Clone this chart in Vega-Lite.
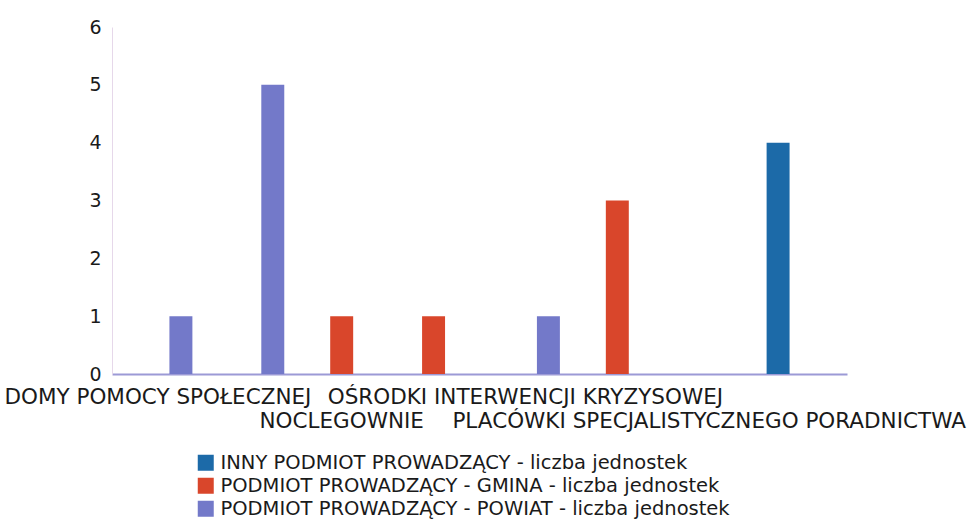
{
  "$schema": "https://vega.github.io/schema/vega-lite/v6.json",
  "autosize": {"type": "none"},
  "padding": {"left": 112, "top": 27, "right": 133, "bottom": 148},
  "width": 735,
  "height": 347,
  "background": "white",
  "config": {"view": {"stroke": null}, "font": "DejaVu Sans"},
  "data": {
    "values": [
      {"kategoria": "DOMY POMOCY SPOŁECZNEJ", "seria": "PODMIOT PROWADZĄCY - POWIAT - liczba jednostek", "liczba": 1},
      {"kategoria": "MIESZKANIA CHRONIONE", "seria": "PODMIOT PROWADZĄCY - POWIAT - liczba jednostek", "liczba": 5},
      {"kategoria": "NOCLEGOWNIE", "seria": "PODMIOT PROWADZĄCY - GMINA - liczba jednostek", "liczba": 1},
      {"kategoria": "OGRZEWALNIE", "seria": "PODMIOT PROWADZĄCY - GMINA - liczba jednostek", "liczba": 1},
      {"kategoria": "OŚRODKI INTERWENCJI KRYZYSOWEJ", "seria": "PODMIOT PROWADZĄCY - POWIAT - liczba jednostek", "liczba": 1},
      {"kategoria": "OŚRODKI WSPARCIA", "seria": "PODMIOT PROWADZĄCY - GMINA - liczba jednostek", "liczba": 3},
      {"kategoria": "PLACÓWKI SPECJALISTYCZNEGO PORADNICTWA", "seria": "INNY PODMIOT PROWADZĄCY - liczba jednostek", "liczba": 0},
      {"kategoria": "SCHRONISKA", "seria": "INNY PODMIOT PROWADZĄCY - liczba jednostek", "liczba": 4}
    ]
  },
  "mark": {"type": "bar"},
  "encoding": {
    "x": {
      "field": "kategoria",
      "type": "nominal",
      "sort": null,
      "scale": {"paddingInner": 0.25, "paddingOuter": 0.125},
      "axis": {
        "title": null,
        "labelAngle": 0,
        "labelOverlap": false,
        "labelLimit": 0,
        "labelFontSize": 21.5,
        "labelColor": "#1a1a1a",
        "labelPadding": 12,
        "labelLineHeight": 24,
        "labelExpr": "datum.value == 'DOMY POMOCY SPOŁECZNEJ' || datum.value == 'OŚRODKI INTERWENCJI KRYZYSOWEJ' ? datum.value : (datum.value == 'NOCLEGOWNIE' || datum.value == 'PLACÓWKI SPECJALISTYCZNEGO PORADNICTWA' ? ['', datum.value] : '')",
        "ticks": false,
        "domainColor": "#9c9ad6",
        "domainWidth": 2
      }
    },
    "xOffset": {
      "field": "seria",
      "type": "nominal",
      "scale": {"domain": ["INNY PODMIOT PROWADZĄCY - liczba jednostek", "PODMIOT PROWADZĄCY - GMINA - liczba jednostek", "PODMIOT PROWADZĄCY - POWIAT - liczba jednostek"], "paddingInner": 0, "paddingOuter": 0}
    },
    "y": {
      "field": "liczba",
      "type": "quantitative",
      "scale": {"domain": [0, 6], "nice": false},
      "axis": {
        "title": null,
        "values": [0, 1, 2, 3, 4, 5, 6],
        "grid": false,
        "ticks": false,
        "labelFontSize": 19,
        "labelColor": "#1a1a1a",
        "labelPadding": 11,
        "domainColor": "#e6d8ea",
        "domainWidth": 1
      }
    },
    "color": {
      "field": "seria",
      "type": "nominal",
      "scale": {
        "domain": ["INNY PODMIOT PROWADZĄCY - liczba jednostek", "PODMIOT PROWADZĄCY - GMINA - liczba jednostek", "PODMIOT PROWADZĄCY - POWIAT - liczba jednostek"],
        "range": ["#1c6aa8", "#d9462b", "#7379c9"]
      },
      "legend": {
        "title": null,
        "orient": "none",
        "legendX": 84,
        "legendY": 426,
        "direction": "vertical",
        "symbolType": "square",
        "symbolSize": 256,
        "symbolStrokeWidth": 0,
        "labelFontSize": 19.5,
        "labelColor": "#1a1a1a",
        "labelLimit": 0,
        "labelOffset": 5,
        "rowPadding": 2
      }
    }
  }
}
